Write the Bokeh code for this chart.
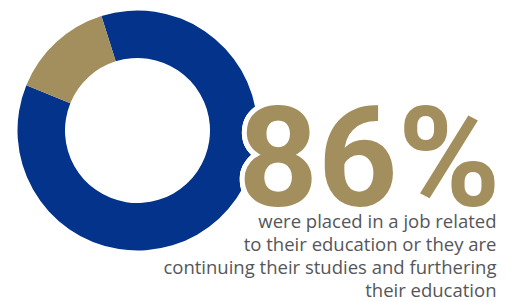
import math
from bokeh.plotting import figure
from bokeh.models import Range1d, ColumnDataSource
from bokeh.core.properties import value
from bokeh.embed import file_html
from bokeh.resources import INLINE

# ---- data ----
categories = ["Placed in related job / further study", "Other"]
shares = [86, 14]
colors = ["#03338A", "#A38F5E"]
headline = "86%"
body_lines = [
    "were placed in a job related",
    "to their education or they are",
    "continuing their studies and furthering",
    "their education",
]

# ---- figure in picture-pixel units ----
W, H = 508, 301
p = figure(width=W, height=H, output_backend="svg", toolbar_location=None,
           x_range=Range1d(0, W), y_range=Range1d(0, H),
           min_border=0, outline_line_color=None)
p.axis.visible = False
p.grid.visible = False
p.background_fill_color = "white"
p.border_fill_color = "white"

def py(img_y):
    return H - img_y

# donut
start = math.radians(157.9)
starts, ends = [], []
acc = start
for s in shares:
    starts.append(acc)
    acc += 2 * math.pi * s / sum(shares)
    ends.append(acc)
src = ColumnDataSource(dict(cat=categories, share=shares, color=colors,
                            start=starts, end=ends))
p.annular_wedge(x=137, y=py(130), inner_radius=72.5, outer_radius=120,
                start_angle="start", end_angle="end", color="color",
                line_color=None, source=src)

# headline with white halo
HS = 139
hx, hy = 500, py(200 - 0.3 * HS)
for k in range(24):
    a = 2 * math.pi * k / 24
    for r in (2.5, 5):
        p.text(x=[hx], y=[hy], text=[headline], text_font=value("Roboto"),
               text_font_style="bold", text_font_size=f"{HS}px",
               text_align="right", text_baseline="alphabetic",
               text_color="white", x_offset=r * math.cos(a), y_offset=r * math.sin(a))
p.text(x=[hx], y=[hy], text=[headline], text_font=value("Roboto"),
       text_font_style="bold", text_font_size=f"{HS}px",
       text_align="right", text_baseline="alphabetic", text_color=colors[1])

# body text
BS = 18.5
baselines = [225.5, 248.5, 271.5, 294.5]
p.text(x=[496] * len(body_lines), y=[py(b - 0.3 * BS) for b in baselines], text=body_lines,
       text_font=value("Open Sans"), text_font_size=f"{BS}px",
       text_align="right", text_baseline="alphabetic", text_color="#55565A")

open("out.html", "w").write(file_html(p, INLINE))
